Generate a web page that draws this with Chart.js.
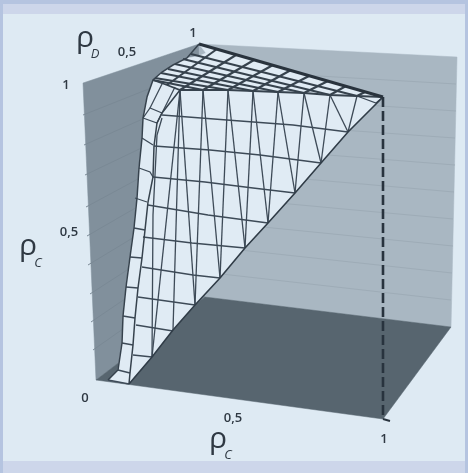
<!DOCTYPE html>
<html>
<head>
<meta charset="utf-8">
<script src="https://cdn.jsdelivr.net/npm/chart.js@4"></script>
<style>
  html, body { margin: 0; padding: 0; background: #b5c4e0; }
  #frame { position: absolute; left: 3px; top: 4px; width: 462px; height: 469px; background: #cdd6ea; }
  #panel { position: absolute; left: 3px; top: 14px; width: 462px; height: 447px; background: #deeaf3; }
  #myChart { position: absolute; left: 0; top: 0; filter: blur(0.5px); }
</style>
</head>
<body>
<div id="frame"></div>
<div id="panel"></div>
<canvas id="myChart" width="468" height="473"></canvas>
<script>
// box faces, projected values
var leftWall = [[83,83],[199,44],[205,297],[96,380]];
var backWall = [[199,44],[457,57],[451,327],[205,297]];
var floorFace = [[96,380],[383,419],[451,327],[205,297]];

// faint level lines on the walls
var leftLevels = [
  [[83,115],[199,69]], [[84,145],[199,94]], [[85,175],[200,120]], [[86,207],[201,145]],
  [[87,236],[201,170]], [[88,265],[202,196]], [[90,294],[203,221]], [[91,322],[203,246]], [[93,350],[204,272]]
];
var backLevels = [
  [[199,69],[456,84]], [[200,94],[456,111]], [[200,120],[455,138]], [[201,145],[455,165]],
  [[201,170],[454,192]], [[202,196],[453,219]], [[203,221],[453,246]], [[203,246],[452,273]], [[204,272],[451,300]]
];

// surface
var surfaceOutline = [[199,44],[383,97],[348,132],[321,163],[295,193],[268,223],[245,248],[220,278],[195,305],
  [173,330],[152,357],[129,384],[108,380],[118,370],[122,343],[123,316],[126,287],[130,257],[134,228],[137,198],
  [139,168],[142,138],[143,118],[147,97],[153,80],[162,72],[173,65],[187,58],[199,56],[206,53]];
var leftEdge = [[108,380],[118,370],[122,343],[123,316],[126,287],[130,257],[134,228],[137,198],[139,168],[142,138],
  [143,118],[147,97],[153,80],[162,72],[173,65],[187,58],[199,44]];
var innerEdge = [[129,384],[130,373],[133,345],[135,318],[138,288],[142,258],[145,230],[148,202],[153,177],[154,146],
  [157,123],[162,113],[180,90]];
var diagonal = [[383,97],[348,132],[321,163],[295,193],[268,223],[245,248],[220,278],[195,305],[173,330],[152,357],[129,384]];
var frontEdge = [[153,80],[167,85],[180,90],[203,90],[228,90],[253,91],[278,92],[304,93],[330,95],[357,96],[383,97]];
var rows = [
  [[162,115],[227,120],[293,125],[348,132]],
  [[154,146],[210,150],[260,155],[321,163]],
  [[153,177],[205,182],[253,188],[295,193]],
  [[148,205],[208,215],[268,223]],
  [[143,237],[192,243],[245,248]],
  [[142,267],[193,275],[220,278]],
  [[138,297],[195,305]],
  [[136,325],[173,331]],
  [[133,355],[152,357]],
  [[108,380],[129,384]]
];
var stubs = [
  [[142,138],[153,145]], [[139,168],[150,172],[153,177]], [[135,198],[147,202]], [[134,228],[145,230]],
  [[130,257],[142,258]], [[126,287],[138,288]], [[123,316],[135,318]], [[122,343],[133,345]], [[118,370],[130,373]]
];
var cornerBox = [
  [[143,118],[150,108],[162,113],[157,123],[143,118]],
  [[150,108],[163,82]],
  [[162,113],[175,87]],
  [[357,96],[376,103],[383,97]]
];
var vees = [
  [[357,96],[348,132]], [[330,95],[348,132]], [[330,95],[321,163]], [[304,93],[321,163]],
  [[304,93],[295,193]], [[278,92],[295,193]], [[278,92],[268,223]], [[253,91],[268,223]],
  [[253,91],[245,248]], [[228,90],[245,248]], [[228,90],[220,278]], [[203,90],[220,278]],
  [[203,90],[195,305]], [[180,90],[195,305]], [[180,90],[173,330]], [[180,90],[152,357]],
  [[162,118],[157,135],[153,215],[152,357]]
];
// plateau grid, both directions
var plateauU = [
  [[191,54],[357,96]], [[183,59],[330,95]], [[175,64],[304,93]], [[168,69],[278,92]],
  [[161,73],[253,91]], [[155,78],[228,90]], [[153,80],[203,90]]
];
var plateauV = [
  [[217,49],[167,85]], [[236,55],[180,90]], [[254,60],[203,90]], [[273,65],[228,90]], [[291,70],[253,91]],
  [[309,76],[278,92]], [[328,81],[304,93]], [[346,86],[330,95]], [[365,92],[357,96]]
];
var topEdge = [[199,44],[383,97]];
var dropLine = [[383,97],[383,419]];
var cornerTick = [[383,419],[390,421]];

var tickLabels = ['1', '0,5', '1', '0,5', '0', '0,5', '1'];
var tickAt = [[193,37],[127,56],[66,89],[69,236],[85,402],[233,422],[384,443]];
var axisLetters = ['ρ', 'ρ', 'ρ'];
var axisLetterAt = [[85,47],[28,255],[218,448]];
var axisSubs = ['D', 'C', 'C'];
var axisSubAt = [[95,58],[38,267],[228,459]];

function pts(a) {
    return a.map(function (p) { return { x: p[0], y: p[1] }; });
}
function line(a, color, width, dash) {
    return { data: pts(a), showLine: true, borderColor: color, borderWidth: width, borderDash: dash || [],
        pointRadius: 0, fill: false, tension: 0 };
}
function face(a, color) {
    return { data: pts(a.concat([a[0]])), showLine: true, borderColor: color, borderWidth: 0.5, backgroundColor: color,
        pointRadius: 0, fill: 'shape', tension: 0 };
}

var meshColor = '#3d4a57';
var painted = [];
painted.push(face(leftWall, '#81909c'));
painted.push(face(backWall, '#a9b7c2'));
leftLevels.forEach(function (l) { painted.push(line(l, '#7a8995', 1)); });
backLevels.forEach(function (l) { painted.push(line(l, '#9eacb7', 1)); });
painted.push(face(floorFace, '#57656f'));
painted.push(face(surfaceOutline, '#e0ebf4'));
rows.concat(stubs, vees, cornerBox).forEach(function (l) { painted.push(line(l, meshColor, 1.3)); });
plateauU.concat(plateauV).forEach(function (l) { painted.push(line(l, '#36424d', 2.1)); });
painted.push(line(leftEdge, '#36424d', 1.5));
painted.push(line(innerEdge, '#36424d', 1.5));
painted.push(line(frontEdge, '#36424d', 1.8));
painted.push(line(diagonal, '#303c47', 1.6));
painted.push(line(dropLine, '#28333e', 2.6, [10, 4]));
painted.push(line(cornerTick, '#28333e', 2));
painted.push(line(topEdge, '#29333d', 3));

// text goes through the same scales as the marks
var axisText = {
    id: 'axisText',
    afterDatasetsDraw: function (chart) {
        var ctx = chart.ctx, sx = chart.scales.x, sy = chart.scales.y;
        function put(t, at, font) {
            ctx.font = font;
            ctx.fillText(t, sx.getPixelForValue(at[0]), sy.getPixelForValue(at[1]));
        }
        ctx.save();
        ctx.textAlign = 'center';
        ctx.textBaseline = 'alphabetic';
        ctx.fillStyle = '#2f3943';
        tickLabels.forEach(function (t, i) { put(t, tickAt[i], '600 13px "Open Sans"'); });
        axisLetters.forEach(function (t, i) { put(t, axisLetterAt[i], '30px "Open Sans"'); });
        axisSubs.forEach(function (t, i) { put(t, axisSubAt[i], 'italic 13px "Open Sans"'); });
        ctx.restore();
    }
};

new Chart(document.getElementById('myChart').getContext('2d'), {
    type: 'scatter',
    data: { datasets: painted.reverse() },
    plugins: [axisText],
    options: {
        responsive: false,
        animation: false,
        layout: { padding: 0 },
        plugins: { legend: { display: false }, tooltip: { enabled: false }, title: { display: false } },
        scales: {
            x: { type: 'linear', min: 0, max: 468, display: false },
            y: { type: 'linear', min: 0, max: 473, reverse: true, display: false }
        }
    }
});
</script>
</body>
</html>
